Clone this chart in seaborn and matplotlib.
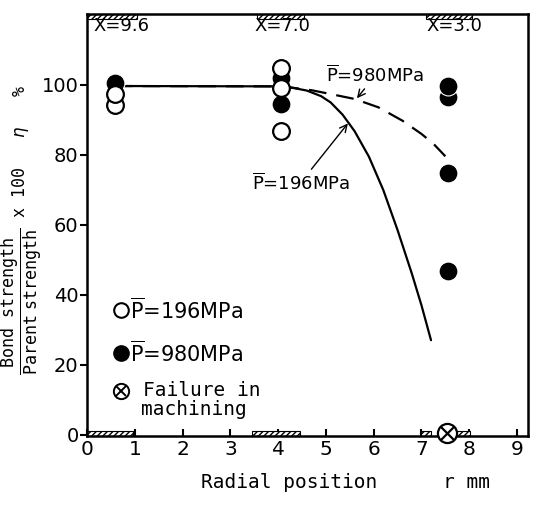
import matplotlib
matplotlib.use("Agg")
import matplotlib.pyplot as plt
import seaborn as sns
import numpy as np

# ---------------- data ----------------
open_x = [0.58, 0.58, 4.06, 4.06, 4.06]
open_y = [94.2, 97.5, 104.8, 99.0, 86.8]

filled_x = [0.58, 4.06, 4.06, 7.55, 7.55, 7.55, 7.55]
filled_y = [100.5, 102.0, 94.5, 96.6, 99.8, 74.8, 46.7]

fail_x = [7.53]
fail_y = [0.4]

dash_x = [0.58, 4.06, 4.3, 4.7, 5.1, 5.6, 6.1, 6.6, 7.0, 7.25, 7.5]
dash_y = [99.7, 99.6, 99.2, 98.5, 97.4, 96.0, 93.6, 89.8, 86.0, 83.2, 79.6]

solid_x = [0.58, 4.06, 4.3, 4.6, 4.9, 5.1, 5.35, 5.6, 5.9, 6.2, 6.5, 6.8, 7.0, 7.2]
solid_y = [99.7, 99.6, 99.2, 98.4, 96.8, 95.0, 91.5, 86.8, 79.5, 70.0, 58.5, 46.0, 37.0, 27.0]

top_band_start = [0.0, 3.55, 7.1]
top_band_end = [1.05, 4.55, 8.05]
bot_band_start = [0.0, 3.45, 7.0, 7.74]
bot_band_end = [0.97, 4.45, 7.21, 8.01]

zone_labels = ["X=9.6", "X=7.0", "X=3.0"]
zone_label_x = [0.13, 3.5, 7.1]

x_ticks = list(range(0, 10))
y_ticks = [0, 20, 40, 60, 80, 100]

# ---------------- style ----------------
sns.set_style("ticks")
plt.rcParams["font.family"] = ["DejaVu Sans"]
plt.rcParams["mathtext.fontset"] = "dejavusans"
plt.rcParams["hatch.linewidth"] = 1.0
for k in ["text.color", "axes.labelcolor", "xtick.color", "ytick.color", "axes.edgecolor"]:
    plt.rcParams[k] = "black"

fig = plt.figure(figsize=(5.39, 5.05), dpi=100)
ax = fig.add_axes([87 / 539, 1 - 436 / 505, (528 - 87) / 539, (436 - 14) / 505])

ax.set_xlim(0, 9.23)
ax.set_ylim(-0.4, 120.3)

# hatched bands along top and bottom
ax.bar(top_band_start, height=1.3, width=np.array(top_band_end) - np.array(top_band_start),
       bottom=119.0, align="edge", facecolor="white", edgecolor="black",
       hatch="//////", linewidth=0.8, zorder=2)
ax.bar(bot_band_start, height=1.4, width=np.array(bot_band_end) - np.array(bot_band_start),
       bottom=-0.4, align="edge", facecolor="white", edgecolor="black",
       hatch="//////", linewidth=0.8, zorder=2)

# curves
sns.lineplot(x=dash_x, y=dash_y, sort=False, ax=ax, color="black", lw=1.6,
             dashes=False, linestyle=(0, (8, 4.5)), zorder=3)
sns.lineplot(x=solid_x, y=solid_y, sort=False, ax=ax, color="black", lw=1.6, zorder=3)

# points
sns.scatterplot(x=filled_x, y=filled_y, ax=ax, marker="o", s=185, color="black",
                edgecolor="white", linewidth=0.8, zorder=4)
sns.scatterplot(x=open_x, y=open_y, ax=ax, marker="o", s=145, facecolor="white",
                edgecolor="black", linewidth=1.6, zorder=5)
sns.scatterplot(x=fail_x, y=fail_y, ax=ax, marker="o", s=190, facecolor="white",
                edgecolor="black", linewidth=1.6, zorder=5, clip_on=False)
sns.scatterplot(x=fail_x, y=fail_y, ax=ax, marker="x", s=90, color="black",
                linewidth=1.6, zorder=6, clip_on=False)

# zone labels
for lab, xx in zip(zone_labels, zone_label_x):
    ax.text(xx, 116.8, lab, fontsize=13, ha="left", va="center", zorder=6)

# annotations
ax.annotate(r"$\overline{\mathrm{P}}$=980MPa", xy=(5.65, 96.2), xytext=(5.0, 102.9),
            fontsize=13, ha="left", va="center",
            arrowprops=dict(arrowstyle="->", color="black", lw=1.0,
                            shrinkA=0, shrinkB=0, relpos=(0.42, 0.0)))
ax.annotate(r"$\overline{\mathrm{P}}$=196MPa", xy=(5.46, 89.0), xytext=(3.45, 71.9),
            fontsize=13, ha="left", va="center",
            arrowprops=dict(arrowstyle="->", color="black", lw=1.0,
                            shrinkA=0, shrinkB=0, relpos=(0.58, 1.0)))

# in-plot key
tA = ax.transAxes
ax.plot([0.078], [0.299], marker="o", ms=10.5, mfc="white", mec="black", mew=1.5,
        transform=tA, ls="none")
ax.plot([0.078], [0.197], marker="o", ms=11, mfc="black", mec="black",
        transform=tA, ls="none")
ax.plot([0.078], [0.107], marker="o", ms=11, mfc="white", mec="black", mew=1.4,
        transform=tA, ls="none")
ax.plot([0.078], [0.107], marker="x", ms=7, mec="black", mew=1.4,
        transform=tA, ls="none")
ax.text(0.098, 0.299, r"$\overline{\mathrm{P}}$=196MPa", transform=tA, fontsize=15,
        ha="left", va="center")
ax.text(0.098, 0.197, r"$\overline{\mathrm{P}}$=980MPa", transform=tA, fontsize=15,
        ha="left", va="center")
ax.text(0.126, 0.107, "Failure in", transform=tA, fontsize=14,
        family="DejaVu Sans Mono", ha="left", va="center")
ax.text(0.122, 0.062, "machining", transform=tA, fontsize=14,
        family="DejaVu Sans Mono", ha="left", va="center")

# axes formatting
ax.set_xticks(x_ticks)
ax.set_yticks(y_ticks)
ax.tick_params(axis="x", direction="in", length=5, width=1.5, labelsize=14.5, pad=3)
ax.tick_params(axis="y", direction="out", length=5, width=1.5, labelsize=14, pad=1)
for sp in ax.spines.values():
    sp.set_linewidth(1.8)
    sp.set_visible(True)

fig.text(201 / 539, 1 - 482 / 505, "Radial position", fontsize=14,
         family="DejaVu Sans Mono", ha="left", va="center")
fig.text(443 / 539, 1 - 482 / 505, "r mm", fontsize=14,
         family="DejaVu Sans Mono", ha="left", va="center")

fig.text(0.040, 1 - 230 / 505,
         r"$\dfrac{\mathtt{Bond\ \ strength}}{\mathtt{Parent\ strength}}$ x 100   $\eta$   %",
         rotation=90, fontsize=12, family="DejaVu Sans Mono", ha="center", va="center")

fig.savefig("out.png", dpi=100)
